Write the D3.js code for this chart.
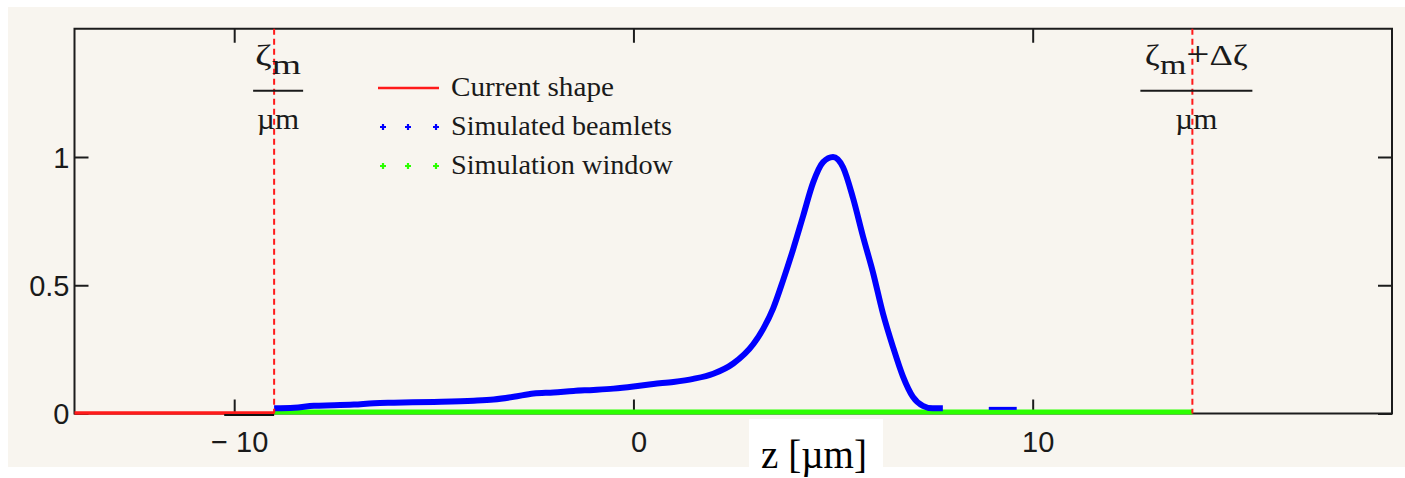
<!DOCTYPE html>
<html>
<head>
<meta charset="utf-8">
<script src="https://cdn.jsdelivr.net/npm/d3@7"></script>
<style>
  html, body { margin: 0; padding: 0; background: #ffffff; }
  svg { display: block; }
</style>
</head>
<body>
<script>
// Longitudinal position z [µm] and normalised current of the simulated beamlets
const zBeam = [-9, -8.5, -8, -7.5, -7, -6.5, -6, -5, -4, -3.5, -3, -2.5, -2, -1.5, -1, -0.5, 0, 0.5, 1, 1.5,
               2, 2.5, 3, 3.25, 3.5, 3.75, 4, 4.25, 4.5, 4.75, 5, 5.25, 5.5, 5.75, 6, 6.25, 6.5, 6.75, 7, 7.25, 7.5, 7.75];
const beamVal = [0.02, 0.022, 0.03, 0.032, 0.035, 0.04, 0.042, 0.045, 0.05, 0.055, 0.065, 0.078, 0.082, 0.088, 0.092, 0.097, 0.105, 0.115, 0.123, 0.135,
                 0.155, 0.195, 0.27, 0.33, 0.41, 0.52, 0.64, 0.77, 0.9, 0.98, 1.0, 0.96, 0.84, 0.69, 0.55, 0.39, 0.26, 0.145, 0.065, 0.03, 0.02, 0.02];

// Isolated beamlets beyond the bunch tail
const zStray = [8.9, 9.6];
const strayVal = [0.02, 0.02];

// Current shape outside the simulation window
const zCurrent = [-14, -9];
const currentVal = [0, 0];

// Short dark segment at the window's left edge
const zEdge = [-10.25, -9];
const edgeVal = [0, 0];

// Simulation window
const zWindow = [-9, 14];
const windowVal = [0, 0];

// Window bounds ζm and ζm + Δζ
const zetaM = -9;
const zetaEnd = 14;

// Axes
const xDomain = [-14, 19];
const yDomain = [0, 1.5];
const xTicks = [-10, 0, 10];
const xTickLabels = ["− 10", "0", "10"];
const yTicks = [0, 0.5, 1];
const yTickLabels = ["0", "0.5", "1"];

const legendItems = ["Current shape", "Simulated beamlets", "Simulation window"];

const W = 1405, H = 478;
const C = { red: "#ff1a1a", blue: "#0000ff", green: "#2cff00", frame: "#1c1c1c", panel: "#f8f5ef" };

const svg = d3.select("body").append("svg").attr("width", W).attr("height", H);
svg.append("rect").attr("width", W).attr("height", H).attr("fill", "#ffffff");
svg.append("rect").attr("x", 8).attr("y", 7).attr("width", W - 8).attr("height", 460).attr("fill", C.panel);

const x = d3.scaleLinear().domain(xDomain).range([74.5, 1392]);
const y = d3.scaleLinear().domain(yDomain).range([413.5, 28.75]);

const sansFont = "'Liberation Sans', Arial, sans-serif";
const serifFont = "'Liberation Serif', 'Times New Roman', serif";

// Mirrored inward ticks on all four sides
const tickLen = 14;
const bottomAxis = svg.append("g").attr("transform", `translate(0,${y(0)})`)
  .call(d3.axisBottom(x).tickValues(xTicks).tickSize(-tickLen)
        .tickFormat((d, i) => xTickLabels[i]));
const topAxis = svg.append("g").attr("transform", `translate(0,${y(1.5)})`)
  .call(d3.axisTop(x).tickValues(xTicks).tickSize(-tickLen).tickFormat(""));
const leftAxis = svg.append("g").attr("transform", `translate(${x(-14)},0)`)
  .call(d3.axisLeft(y).tickValues(yTicks).tickSize(-tickLen)
        .tickFormat((d, i) => yTickLabels[i]));
const rightAxis = svg.append("g").attr("transform", `translate(${x(19)},0)`)
  .call(d3.axisRight(y).tickValues(yTicks).tickSize(-tickLen).tickFormat(""));

[bottomAxis, topAxis, leftAxis, rightAxis].forEach(g => {
  g.select(".domain").remove();
  g.selectAll(".tick line").attr("stroke", C.frame).attr("stroke-width", 2);
});
bottomAxis.selectAll(".tick text")
  .attr("y", 38).attr("dy", null).attr("x", 5)
  .attr("fill", "#1a1a1a").style("font-family", sansFont).style("font-size", "29px");
leftAxis.selectAll(".tick text")
  .attr("x", -5).attr("dy", "0.36em")
  .attr("fill", "#1a1a1a").style("font-family", sansFont).style("font-size", "29px");

// Plot frame
svg.append("rect")
  .attr("x", x(-14)).attr("y", y(1.5))
  .attr("width", x(19) - x(-14)).attr("height", y(0) - y(1.5))
  .attr("fill", "none").attr("stroke", C.frame).attr("stroke-width", 2);

const line = (xs, ys, curve) => d3.line()
  .x((d, i) => x(xs[i])).y((d, i) => y(ys[i]))
  .curve(curve || d3.curveLinear)(xs);

// Current shape, with the dark edge segment peeking out beneath it
svg.append("path").attr("d", line(zCurrent, currentVal)).attr("transform", "translate(0,-0.5)")
  .attr("fill", "none").attr("stroke", C.red).attr("stroke-width", 3.5);
svg.append("path").attr("d", line(zEdge, edgeVal)).attr("transform", "translate(0,1.5)")
  .attr("fill", "none").attr("stroke", "#111").attr("stroke-width", 2);

// Simulation window
svg.append("path").attr("d", line(zWindow, windowVal)).attr("transform", "translate(0,-1.5)")
  .attr("fill", "none").attr("stroke", C.green).attr("stroke-width", 5);

// Simulated beamlets
svg.append("path").attr("d", line(zBeam, beamVal, d3.curveMonotoneX))
  .attr("fill", "none").attr("stroke", C.blue).attr("stroke-width", 6)
  .attr("stroke-linejoin", "round");
svg.append("path").attr("d", line(zStray, strayVal))
  .attr("fill", "none").attr("stroke", C.blue).attr("stroke-width", 3);

// Window bounds
[zetaM, zetaEnd].forEach(z => {
  svg.append("line")
    .attr("x1", x(z)).attr("x2", x(z)).attr("y1", y(1.5)).attr("y2", y(0))
    .attr("stroke", C.red).attr("stroke-width", 2).attr("stroke-dasharray", "6 4");
});

// Bound labels as fractions over µm
function fracLabel(z, parts, barHalf, width) {
  const cx = x(z) + 4;
  const g = svg.append("g").attr("fill", "#1a1a1a").style("font-family", serifFont);
  const t = g.append("text").attr("x", cx).attr("y", 65).attr("text-anchor", "middle")
    .style("font-size", "30px");
  parts.forEach(p => {
    t.append("tspan").text(p.t)
      .attr("dy", p.dy || 0)
      .style("font-size", p.size ? p.size + "px" : null);
  });
  t.attr("textLength", width).attr("lengthAdjust", "spacingAndGlyphs");
  g.append("line").attr("x1", cx - barHalf).attr("x2", cx + barHalf)
    .attr("y1", 90.7).attr("y2", 90.7).attr("stroke", "#1a1a1a").attr("stroke-width", 2);
  g.append("text").attr("x", cx).attr("y", 129).attr("text-anchor", "middle")
    .style("font-size", "30px").text("µm")
    .attr("textLength", 42).attr("lengthAdjust", "spacingAndGlyphs");
}
fracLabel(zetaM, [{ t: "ζ" }, { t: "m", dy: 9, size: 28 }], 25, 46);
fracLabel(zetaEnd, [{ t: "ζ" }, { t: "m", dy: 9, size: 28 }, { t: "+", dy: -9, size: 34 }, { t: "Δζ" }], 56, 103);

// Legend
const legend = svg.append("g");
const rowY = [88, 127, 166];
const legendWidths = [163, 221, 222];
legendItems.forEach((label, i) => {
  const ry = rowY[i];
  if (i === 0) {
    legend.append("line").attr("x1", 378).attr("x2", 439).attr("y1", ry).attr("y2", ry)
      .attr("stroke", C.red).attr("stroke-width", 2.5);
  } else {
    const col = i === 1 ? C.blue : C.green;
    [383, 408, 436].forEach(mx => {
      legend.append("path")
        .attr("d", `M${mx - 3},${ry}H${mx + 3}M${mx},${ry - 3}V${ry + 3}`)
        .attr("stroke", col).attr("stroke-width", 2.2);
    });
  }
  legend.append("text").attr("x", 451).attr("y", ry + 8)
    .attr("fill", "#1a1a1a").style("font-family", serifFont).style("font-size", "28px")
    .attr("textLength", legendWidths[i]).attr("lengthAdjust", "spacingAndGlyphs")
    .text(label);
});

// Axis title on its own white plate
svg.append("rect").attr("x", 749).attr("y", 419).attr("width", 134).attr("height", 59).attr("fill", "#ffffff");
svg.append("text").attr("x", 814).attr("y", 468).attr("text-anchor", "middle")
  .attr("fill", "#000").style("font-family", serifFont).style("font-size", "39px")
  .text("z [µm]");
</script>
</body>
</html>
